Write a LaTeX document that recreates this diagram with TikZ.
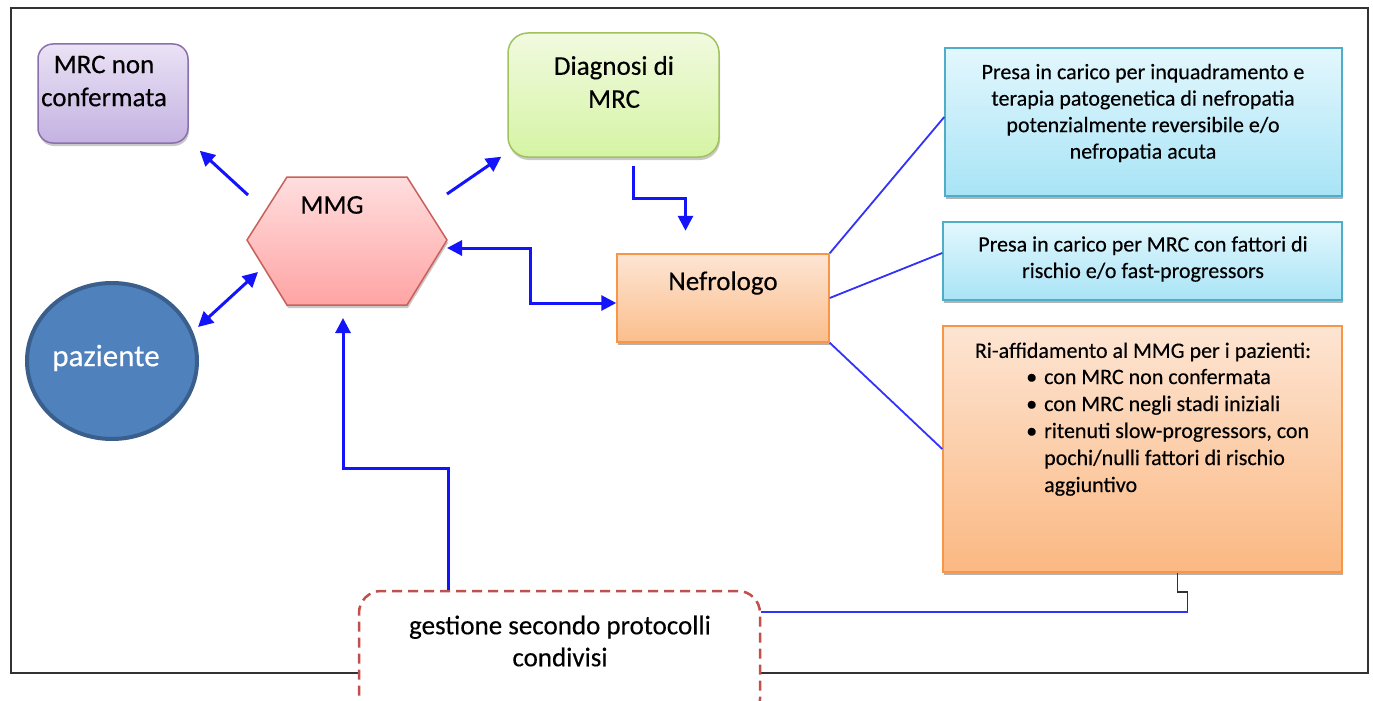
\documentclass[tikz,border=0pt]{standalone}
\usepackage{fontspec}
\setmainfont{Carlito}[FakeBold=0.3]
\usetikzlibrary{arrows.meta,shadows,calc,shapes.geometric}
\definecolor{arrblue}{RGB}{20,20,250}
\definecolor{lineblue}{RGB}{50,50,250}
\definecolor{framec}{RGB}{50,50,50}
\definecolor{mrctop}{HTML}{EAE2F5}
\definecolor{mrcbot}{HTML}{C4B2E1}
\definecolor{mrcdraw}{HTML}{8A71AB}
\definecolor{diagtop}{HTML}{F1FADF}
\definecolor{diagbot}{HTML}{D5F4A4}
\definecolor{diagdraw}{HTML}{A1C25E}
\definecolor{hextop}{HTML}{FFDEDE}
\definecolor{hexbot}{HTML}{FFA4A4}
\definecolor{hexdraw}{HTML}{C9605C}
\definecolor{neftop}{HTML}{FDE5D4}
\definecolor{nefbot}{HTML}{FBBE8C}
\definecolor{orgdraw}{HTML}{F79646}
\definecolor{cyantop}{HTML}{E3F7FD}
\definecolor{cyanbot}{HTML}{A8E4F6}
\definecolor{cyandraw}{HTML}{4FADC8}
\definecolor{oritop}{HTML}{FDE5D3}
\definecolor{oribot}{HTML}{FBB882}
\definecolor{pazfill}{HTML}{4F81BD}
\definecolor{pazdraw}{HTML}{3A5F8C}
\definecolor{gestdraw}{HTML}{C0504D}
\begin{document}
\begin{tikzpicture}[x=1pt,y=-1pt,
  shad/.style={drop shadow={shadow xshift=1pt,shadow yshift=-3pt,opacity=1,fill=black!30}},
  softshad/.style={drop shadow={shadow xshift=1pt,shadow yshift=-3pt,opacity=.35,fill=black!60}},
  boxbase/.style={rectangle,inner sep=0pt,line width=1.5pt},
  mrcbox/.style={boxbase,rounded corners=15pt,top color=mrctop,bottom color=mrcbot,draw=mrcdraw,softshad},
  diagbox/.style={boxbase,rounded corners=20pt,top color=diagtop,bottom color=diagbot,draw=diagdraw,softshad},
  nefbox/.style={boxbase,top color=neftop,bottom color=nefbot,draw=orgdraw,shad},
  cyanbox/.style={boxbase,top color=cyantop,bottom color=cyanbot,draw=cyandraw,shad},
  oribox/.style={boxbase,top color=oritop,bottom color=oribot,draw=orgdraw,shad},
  big/.style={font=\fontsize{27}{33}\selectfont,align=center,inner sep=0pt},
  small/.style={font=\fontsize{22}{26.5}\selectfont,align=center,inner sep=0pt},
  arr/.style={draw=arrblue,line width=3pt,-{Triangle[length=15pt,width=15pt]}},
  darr/.style={draw=arrblue,line width=3pt,{Triangle[length=15pt,width=15pt]}-{Triangle[length=15pt,width=15pt]}},
  thin/.style={draw=lineblue,line width=1.8pt}]
\useasboundingbox (0,0) rectangle (1373,701);
\clip (0,0) rectangle (1373,701);
\fill[white] (0,0) rectangle (1373,701);
% outer frame
\draw[framec,line width=1.5pt] (11,8) rectangle (1368,673);

% hexagon MMG
\coordinate (hL) at (247,240);
\coordinate (hTL) at (287,177);
\coordinate (hTR) at (407,177);
\coordinate (hR) at (447,240);
\coordinate (hBR) at (407,305);
\coordinate (hBL) at (287,305);
\coordinate (hB) at (343,305);
\path[softshad,top color=hextop,bottom color=hexbot,draw=hexdraw,line width=1.5pt]
  (hL) -- (hTL) -- (hTR) -- (hR) -- (hBR) -- (hBL) -- cycle;
\node[big] (mmg) at (332,205) {MMG};

% boxes
\node[mrcbox,minimum width=150pt,minimum height=99pt] (mrc) at (113,93.5) {};
\node[big] (mrct) at (104,81) {MRC non\\confermata};

\node[diagbox,minimum width=211pt,minimum height=124pt] (diag) at (613.5,95) {};
\node[big] (diagt) at (614,82) {Diagnosi di\\MRC};

\node[nefbox,minimum width=212pt,minimum height=88pt] (nef) at (723,298) {};
\node[big] (neft) at (723,283) {Nefrologo};

\node[ellipse,minimum width=170pt,minimum height=156pt,fill=pazfill,draw=pazdraw,line width=4pt,inner sep=0pt] (paz) at (112,361) {};
\node[font=\fontsize{31}{36}\selectfont,text=white,inner sep=0pt] (pazt) at (106,358) {paziente};

\node[cyanbox,minimum width=397pt,minimum height=148pt] (c1) at (1143.5,122) {};
\node[small] (c1t) at (1143,113) {Presa in carico per inquadramento e\\terapia patogenetica di nefropatia\\potenzialmente reversibile e/o\\nefropatia acuta};

\node[cyanbox,minimum width=399pt,minimum height=78pt] (c2) at (1142.5,261) {};
\node[small] (c2t) at (1143,259) {Presa in carico per MRC con fattori di\\rischio e/o fast-progressors};

\node[oribox,minimum width=399pt,minimum height=246pt] (ori) at (1142.5,449) {};
\node[small] (orit) at (1143,352) {Ri-affidamento al MMG per i pazienti:};
\node[inner sep=0pt,anchor=base west,font=\fontsize{22}{27}\selectfont] (oril) at (1026,384)
 {\begin{tabular}[t]{@{}l@{\hspace{7pt}}l@{}}
  \textbullet & con MRC non confermata\\
  \textbullet & con MRC negli stadi iniziali\\
  \textbullet & ritenuti slow-progressors, con\\
   & pochi/nulli fattori di rischio\\
   & aggiuntivo
 \end{tabular}};

% dashed box
\node[rectangle,rounded corners=22pt,draw=gestdraw,fill=white,line width=2.5pt,dash pattern=on 10pt off 6pt,minimum width=401pt,minimum height=130pt,inner sep=0pt] (gest) at (559.5,656) {};
\node[big,font=\fontsize{27}{32}\selectfont] (gestt) at (560,641) {gestione secondo protocolli\\condivisi};

% arrows
\draw[arr] ([shift={(1pt,45pt)}]hL) -- ([xshift=11pt,yshift=-7pt]mrc.south east);
\draw[arr] ([yshift=46pt]hR) -- ([xshift=-6pt,yshift=1pt]diag.south west);
\draw[darr] ([shift={(-1pt,34pt)}]paz.east) -- ([shift={(11pt,-32pt)}]hL);
\draw[arr] ([xshift=20pt,yshift=-8pt]diag.south) |- ++(52,33) -- ++(0,32);
\draw[darr] ([yshift=-5pt]nef.west) -- ++(-86,0) |- ([yshift=-8pt]hR);
\draw[arr] ([xshift=-111.5pt]gest.north) -- ++(0,-121) -| ([yshift=-13pt]hB);

% thin connectors
\draw[thin] (nef.north east) -- ([yshift=5pt]c1.west);
\draw[thin] (nef.east) -- ([yshift=8pt]c2.west);
\draw[thin] (nef.south east) -- (ori.west);
\draw[framec,line width=1.5pt] ([xshift=35pt]ori.south) -- ++(0,19) -- ++(10,0) -- ++(0,20) coordinate (jn);
\draw[thin] (jn) -- (jn -| gest.east);
\end{tikzpicture}
\end{document}
